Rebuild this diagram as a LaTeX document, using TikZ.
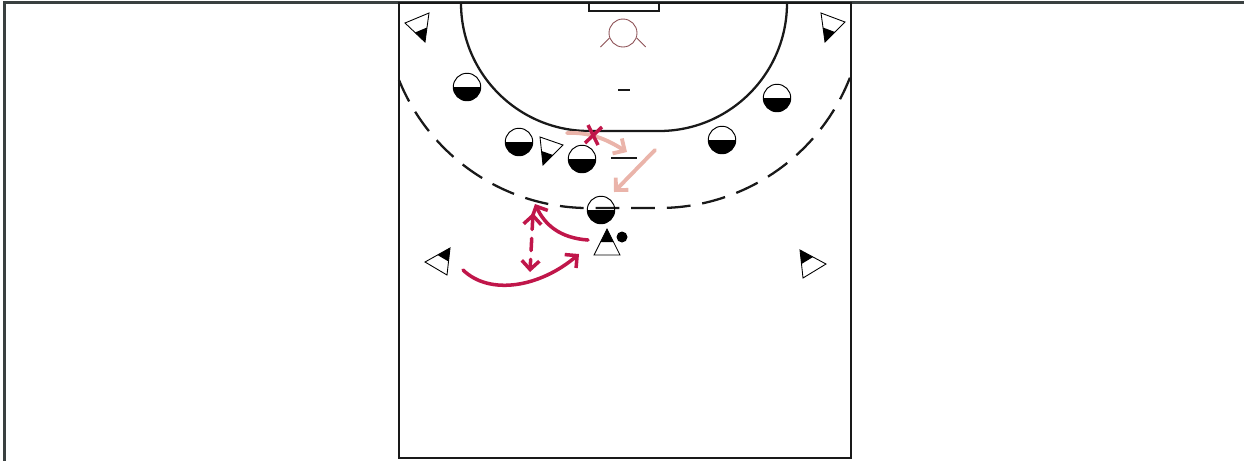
\documentclass[tikz,border=0pt]{standalone}
\usepackage{tikz}
\usetikzlibrary{arrows.meta,calc}
\usepackage{xcolor}
\definecolor{framegray}{RGB}{58,64,64}
\definecolor{keeperred}{RGB}{140,80,85}
\definecolor{movecrimson}{RGB}{192,22,74}
\definecolor{passpink}{RGB}{234,180,170}

% attacker: name, tip, base corner, base corner
\newcommand{\attacker}[4]{%
  \fill (#2) -- ($(#2)!0.5!(#3)$) -- ($(#2)!0.5!(#4)$) -- cycle;
  \draw[line width=0.5pt] (#2) -- (#3) -- (#4) -- cycle;
  \coordinate (#1) at ($1/3*(#2)+1/3*(#3)+1/3*(#4)$);
}

\begin{document}
\begin{tikzpicture}[
    x=0.02cm, y=-0.02cm,
    defender/.style={draw,circle,minimum size=0.55cm,inner sep=0pt,line width=0.55pt,
      path picture={\fill (path picture bounding box.west) rectangle (path picture bounding box.south east);}},
    court/.style={line width=1.3pt,black!90},
    run/.style={movecrimson,line width=2pt,line cap=round},
    pass/.style={passpink,line width=2.2pt,line cap=round},
    >={Straight Barb[length=5pt,width=10pt]}
]
\useasboundingbox (0,0) rectangle (1244,461);
% Frame
\draw[framegray,line width=1.2pt] (1244,2.5) -- (4.5,2.5) -- (4.5,461);

% Court
\draw[court] (399,3) rectangle (851,458);
\draw[court,line width=0.9pt] (589,3) rectangle (659,11);
\draw[court] (461,3) arc[start angle=180,end angle=90,radius=128] -- (659,131)
  arc[start angle=90,end angle=0,radius=128];
\draw[court,dash pattern=on 13.5pt off 6.8pt] (399,80) arc[start angle=157.95,end angle=90,radius=205]
  -- (659,208) arc[start angle=90,end angle=20.5,radius=205];
\draw[court] (618,90) -- (630,90);
\draw[court] (611,158) -- (637,158);

% Goalkeeper
\node[draw=keeperred,circle,minimum size=0.56cm,inner sep=0pt,line width=0.5pt] (gk) at (623,33) {};
\draw[keeperred,line width=0.5pt] (gk.200) -- ++(-9,9);
\draw[keeperred,line width=0.5pt] (gk.340) -- ++(9,9);

% Defenders
\node[defender] (d1) at (467,87) {};
\node[defender] (d2) at (777,98) {};
\node[defender] (d3) at (519,142) {};
\node[defender] (d4) at (582,159) {};
\node[defender] (d5) at (722,140) {};
\node[defender] (d6) at (601,210) {};

% Attackers
\attacker{a1}{425,42}{405,23}{429,13}
\attacker{a2}{825,42}{821,13}{845,22}
\attacker{a3}{543,165}{540,137}{563,145}
\attacker{a4}{450,248}{425,262}{447,275}
\attacker{a5}{800,250}{826,264}{803,278}
\attacker{a6}{607,229}{594,255}{620,255}
\node[circle,fill,minimum size=0.22cm,inner sep=0pt] (ball) at (622,237) {};

% Passes
\coordinate (p1s) at (567,133);
\coordinate (p1e) at (627,152);
\coordinate (p2s) at (655,150);
\coordinate (p2e) at (614,192);
\draw[pass,->] (p1s) .. controls (590,132) and (606,139) .. (p1e);
\draw[pass,->] (p2s) -- (p2e);

% Cut pass
\coordinate (x0) at (593,135);
\draw[movecrimson,line width=2pt] ($(x0)+(-8,8)$) -- ($(x0)+(9,-8)$);
\draw[movecrimson,line width=2pt] ($(x0)+(-5,-10)$) -- ($(x0)+(5,10)$);

% Runs
\coordinate (r1s) at (588,240);
\coordinate (r1e) at (535,204);
\coordinate (r2s) at (533,213);
\coordinate (r2e) at (530,272);
\coordinate (r3s) at (463,270);
\coordinate (r3e) at (579,254);
\draw[run,->] (r1s) .. controls (560,238) and (545,225) .. (r1e);
\draw[run,<->,dash pattern=on 7pt off 5pt] (r2s) -- (r2e);
\draw[run,->] (r3s) .. controls (490,296) and (540,287) .. (r3e);
\end{tikzpicture}
\end{document}
